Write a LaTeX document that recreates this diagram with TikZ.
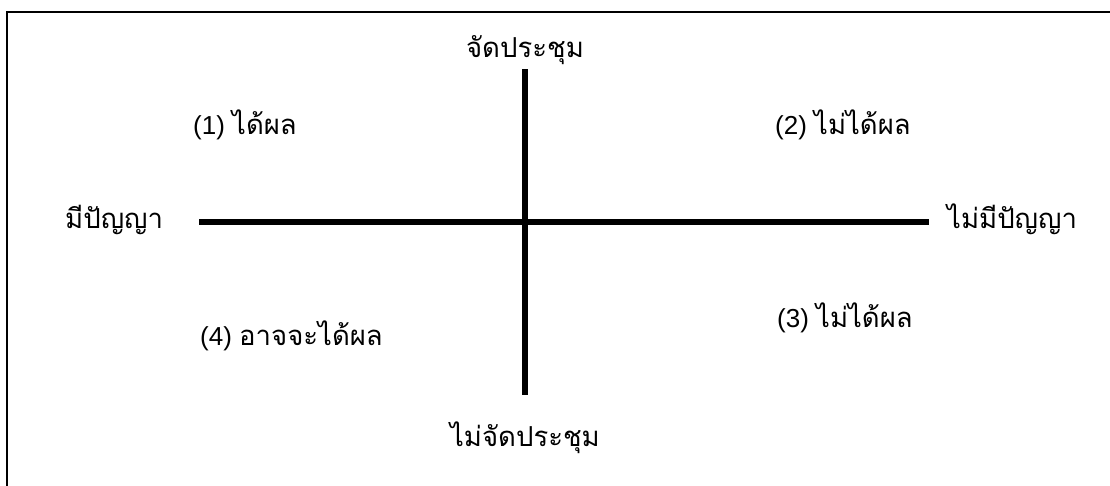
\documentclass[tikz,border=0pt]{standalone}
\usepackage{fontspec}
\setmainfont{Liberation Sans}
\newfontfamily\thaifont[Script=Thai]{Loma}
\tikzset{
  lbl/.style={anchor=base, inner sep=0pt, font=\fontsize{26}{30}\selectfont},
  axis/.style={line width=5.5pt},
  frame/.style={line width=2pt}
}
\newcommand{\thtxt}[1]{{\thaifont\fontsize{27.5}{30}\selectfont #1}}
\begin{document}
\begin{tikzpicture}[x=1pt,y=-1pt]
\useasboundingbox (0,0) rectangle (1110,485);
\fill[white] (0,0) rectangle (1110,485);
\draw[frame] (7,12) rectangle (1130,505);
% axes
\coordinate (L) at (199,222);
\coordinate (R) at (929,222);
\coordinate (T) at (525,69);
\coordinate (B) at (525,395);
\draw[axis] (L) -- (R);
\draw[axis] (T) -- (B);
% labels
\node[lbl] (top) at (525,57) {\thtxt{จัดประชุม}};
\node[lbl] (bot) at (525,446) {\thtxt{ไม่จัดประชุม}};
\node[lbl, anchor=base west] (left) at (65,228) {\thtxt{มีปัญญา}};
\node[lbl, anchor=base west] (right) at (947,228) {\thtxt{ไม่มีปัญญา}};
\node[lbl, anchor=base west] (q1) at (193,134) {(1) \thtxt{ได้ผล}};
\node[lbl, anchor=base west] (q2) at (775,134) {(2) \thtxt{ไม่ได้ผล}};
\node[lbl, anchor=base west] (q3) at (777,327) {(3) \thtxt{ไม่ได้ผล}};
\node[lbl, anchor=base west] (q4) at (200,345) {(4) \thtxt{อาจจะได้ผล}};
\end{tikzpicture}
\end{document}
